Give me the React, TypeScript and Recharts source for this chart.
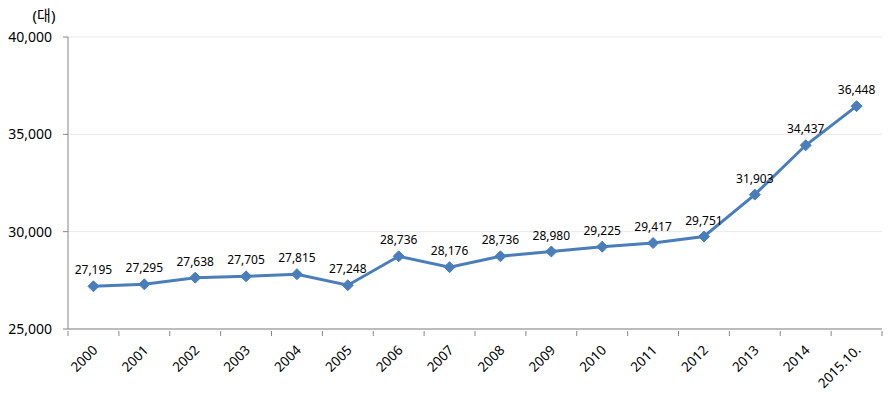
import React from 'react';
import { LineChart, Line, XAxis, YAxis, CartesianGrid, LabelList } from 'recharts';

const categories = ['2000', '2001', '2002', '2003', '2004', '2005', '2006', '2007', '2008', '2009', '2010', '2011', '2012', '2013', '2014', '2015.10.'];
const values = [27195, 27295, 27638, 27705, 27815, 27248, 28736, 28176, 28736, 28980, 29225, 29417, 29751, 31903, 34437, 36448];
const yTicks = [25000, 30000, 35000, 40000];
const unitLabel = '(대)';

const data = categories.map((c, i) => ({ year: c, value: values[i] }));

const fmt = (v: number) => v.toLocaleString('en-US');
const FONT = '"Noto Sans", "Noto Sans CJK KR", sans-serif';
const LINE = '#4A7EBB';
const AXIS = '#868686';
const HALF_BAND = 814 / 16 / 2;

const Diamond = (props: any) => {
  const { cx, cy } = props;
  if (cx == null || cy == null) return null;
  const r = 5.5;
  return (
    <polygon
      points={`${cx},${cy - r} ${cx + r},${cy} ${cx},${cy + r} ${cx - r},${cy}`}
      fill={LINE}
      stroke={LINE}
      strokeWidth={1}
    />
  );
};

const XTick = (props: any) => {
  const { x, y, payload, index } = props;
  const isLast = index === categories.length - 1;
  const top = y - 5;
  const tx = x + 5;
  const ty = y + 15;
  return (
    <g>
      <line x1={x - HALF_BAND} x2={x - HALF_BAND} y1={top} y2={top + 5} stroke={AXIS} />
      {isLast && <line x1={x + HALF_BAND} x2={x + HALF_BAND} y1={top} y2={top + 5} stroke={AXIS} />}
      <text
        x={tx}
        y={ty}
        transform={`rotate(-45, ${tx}, ${ty})`}
        textAnchor="end"
        fontFamily={FONT}
        fontSize={13.5}
        fill="#000"
      >
        {payload.value}
      </text>
    </g>
  );
};

export default function App() {
  return (
    <div style={{ position: 'absolute', left: 0, top: 0, background: '#fff' }}>
      <LineChart width={893} height={406} data={data} margin={{ top: 37, right: 11, bottom: 7, left: 0 }}>
        <CartesianGrid vertical={false} stroke="#e8e8e8" />
        <XAxis
          dataKey="year"
          height={70}
          interval={0}
          tick={<XTick />}
          tickSize={5}
          padding={{ left: HALF_BAND, right: HALF_BAND }}
          axisLine={{ stroke: AXIS }}
          tickLine={false}
        />
        <YAxis
          width={68}
          domain={[25000, 40000]}
          ticks={yTicks}
          tickFormatter={fmt}
          tickSize={5}
          tickMargin={11}
          axisLine={{ stroke: AXIS }}
          tickLine={{ stroke: AXIS }}
          tick={{ fontFamily: FONT, fontSize: 14, fill: '#000' }}
          label={{
            content: () => (
              <text x={44} y={21} textAnchor="middle" fontFamily={FONT} fontSize={15} fill="#000">
                {unitLabel}
              </text>
            ),
          }}
        />
        <Line
          type="linear"
          dataKey="value"
          stroke={LINE}
          strokeWidth={3}
          dot={<Diamond />}
          activeDot={false}
          isAnimationActive={false}
        >
          <LabelList
            dataKey="value"
            position="top"
            offset={12}
            formatter={(v: any) => fmt(Number(v))}
            style={{ fontFamily: FONT, fontSize: 12, fill: '#000' }}
          />
        </Line>
      </LineChart>
    </div>
  );
}
